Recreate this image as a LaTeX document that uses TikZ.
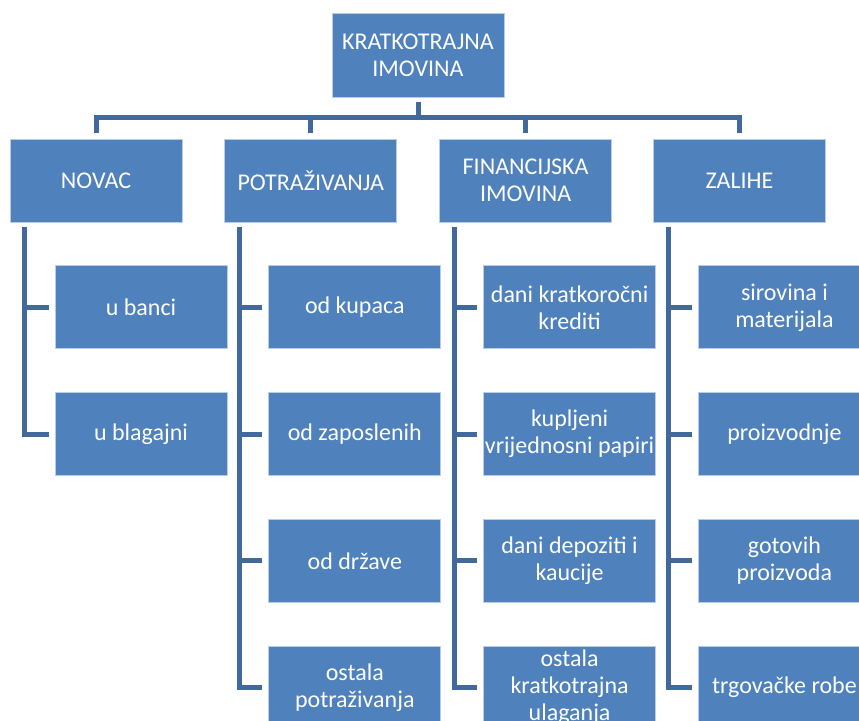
\documentclass[tikz,border=0pt]{standalone}
\usepackage{fontspec}
\setmainfont{Carlito}
\usetikzlibrary{positioning}

\definecolor{boxblue}{HTML}{4F81BD}
\definecolor{lineblue}{HTML}{41699C}
\definecolor{rimblue}{HTML}{B9CDE5}

\begin{document}
\begin{tikzpicture}[x=1pt,y=-1pt,
  box/.style={rectangle,fill=boxblue,draw=rimblue,line width=0.8pt,text=white,
    minimum width=172pt,minimum height=83pt,inner sep=0pt,align=center,
    font=\fontsize{24}{27}\selectfont},
  conn/.style={draw=lineblue,line width=5pt,shorten <=5pt,shorten >=6pt}]
\useasboundingbox (0,0) rectangle (859,720);
\clip (0,0) rectangle (859,720);
% top
\node[box, minimum height=84pt] (top) at (418,55) {KRATKOTRAJNA\\IMOVINA};
% second row
\node[box] (novac) at (96,180.5) {NOVAC};
\node[box] (potr) [right=42pt of novac] {POTRAŽIVANJA};
\node[box] (fin) [right=42pt of potr] {FINANCIJSKA\\IMOVINA};
\node[box] (zal) [right=41pt of fin] {ZALIHE};
% novac
\node[box] (ubanci) [below right=43pt and 45pt of novac.south west] {u banci};
\node[box] (ublag) [below=43pt of ubanci] {u blagajni};
% potrazivanja
\node[box] (kup) [below right=43pt and 44pt of potr.south west] {od kupaca};
\node[box] (zap) [below=43pt of kup] {od zaposlenih};
\node[box] (drz) [below=43pt of zap] {od države};
\node[box] (ostp) [below=43pt of drz] {ostala\\potraživanja};
% financijska imovina
\node[box] (kred) [below right=43pt and 44pt of fin.south west] {dani kratkoročni\\krediti};
\node[box] (pap) [below=43pt of kred] {kupljeni\\vrijednosni papiri};
\node[box] (dep) [below=43pt of pap] {dani depoziti i\\kaucije};
\node[box] (ostu) [below=43pt of dep] {ostala\\kratkotrajna\\ulaganja};
% zalihe
\node[box] (sir) [below right=43pt and 45pt of zal.south west] {sirovina i\\materijala};
\node[box] (proiz) [below=43pt of sir] {proizvodnje};
\node[box] (got) [below=43pt of proiz] {gotovih\\proizvoda};
\node[box] (robe) [below=43pt of got] {trgovačke robe};
% connectors
\foreach \n in {novac,potr,fin,zal}
  \draw[conn] (top.south) -- ++(0,20) -| (\n.north);
\foreach \n in {ubanci,ublag}
  \draw[conn] ([xshift=15pt]novac.south west) |- (\n.west);
\foreach \n in {kup,zap,drz,ostp}
  \draw[conn] ([xshift=15pt]potr.south west) |- (\n.west);
\foreach \n in {kred,pap,dep,ostu}
  \draw[conn] ([xshift=15pt]fin.south west) |- (\n.west);
\foreach \n in {sir,proiz,got,robe}
  \draw[conn] ([xshift=15pt]zal.south west) |- (\n.west);
\end{tikzpicture}
\end{document}
